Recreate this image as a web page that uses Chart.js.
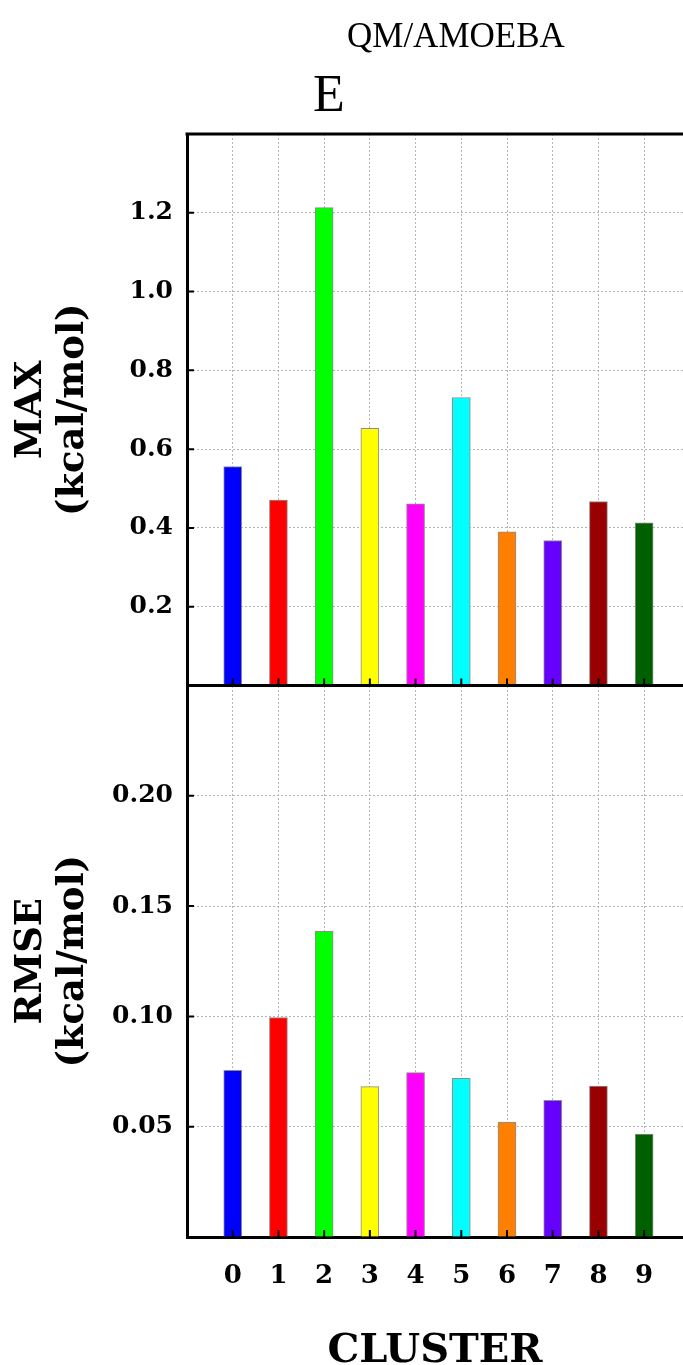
<!DOCTYPE html>
<html>
<head>
<meta charset="utf-8">
<script src="https://cdn.jsdelivr.net/npm/chart.js@4.4.1/dist/chart.umd.min.js"></script>
<style>
  html, body { margin: 0; padding: 0; background: #fff; overflow: hidden; }
  #wrap { position: relative; width: 683px; height: 1365px; }
</style>
</head>
<body>
<div id="wrap"><canvas id="clusterChart"></canvas></div>
<script>
const clusters = [0, 1, 2, 3, 4, 5, 6, 7, 8, 9];
const maxValues = [0.556, 0.471, 1.213, 0.653, 0.461, 0.731, 0.390, 0.368, 0.467, 0.413];
const rmseValues = [0.0755, 0.0995, 0.1386, 0.0682, 0.0745, 0.0719, 0.0521, 0.0620, 0.0684, 0.0467];
const barColors = ["#0000ff", "#ff0000", "#00ff00", "#ffff00", "#ff00ff",
                   "#00ffff", "#ff8000", "#6600ff", "#990000", "#006000"];
const maxRange = [0, 1.4];
const rmseRange = [0, 0.25];

const serif = "'DejaVu Serif', serif";

const gridStyle = { color: "#b4b4b4", lineWidth: 1, drawTicks: false, offset: false };
const borderStyle = { display: true, color: "#000", width: 3, dash: [2, 2] };

// tick labels only inside the panel, not on its edges
const innerLabel = (range, digits) => (v) =>
  v > range[0] + 1e-9 && v < range[1] - 1e-9 ? v.toFixed(digits) : "";

const yAxis = (range, step, digits, title) => ({
  type: "linear",
  position: "left",
  stack: "panels",
  stackWeight: 1,
  min: range[0],
  max: range[1],
  z: 1,
  grid: gridStyle,
  border: borderStyle,
  ticks: {
    stepSize: step,
    padding: 14,
    color: "#000",
    font: { family: serif, size: 25, weight: "bold" },
    callback: innerLabel(range, digits),
  },
  title: {
    display: true,
    text: title,
    color: "#000",
    font: { family: serif, size: 37, weight: "bold", lineHeight: 1.12 },
    padding: { top: 11, bottom: 0 },
  },
  afterFit: (s) => { s.width = 187; },
});

const frameAndTicks = {
  id: "frameAndTicks",
  afterDraw(chart) {
    const { ctx, chartArea, scales } = chart;
    ctx.save();
    ctx.strokeStyle = "#000";
    ctx.lineWidth = 2;
    ctx.beginPath();
    ["yMax", "yRmse"].forEach((id) => {
      const s = scales[id];
      s.ticks.forEach((t) => {
        if (t.value <= s.min + 1e-9 || t.value >= s.max - 1e-9) return;
        const y = s.getPixelForValue(t.value);
        ctx.moveTo(chartArea.left, y);
        ctx.lineTo(chartArea.left + 7, y);
      });
    });
    [scales.yMax.bottom, scales.yRmse.bottom].forEach((base) => {
      clusters.forEach((c) => {
        const px = scales.x.getPixelForValue(c);
        ctx.moveTo(px, base);
        ctx.lineTo(px, base - 7);
      });
    });
    ctx.stroke();

    ctx.lineWidth = 3;
    ctx.beginPath();
    ctx.moveTo(chartArea.left - 1.5, chartArea.top);
    ctx.lineTo(chartArea.right, chartArea.top);
    ctx.moveTo(chartArea.left, scales.yMax.bottom);
    ctx.lineTo(chartArea.right, scales.yMax.bottom);
    ctx.stroke();
    ctx.restore();
  },
};

const energyTitle = {
  id: "energyTitle",
  afterDraw(chart) {
    const { ctx } = chart;
    ctx.save();
    ctx.fillStyle = "#000";
    ctx.textBaseline = "alphabetic";
    ctx.font = "52px 'Liberation Serif', serif";
    ctx.fillText("E", 313, 111);
    ctx.font = "35px 'Liberation Serif', serif";
    ctx.fillText("QM/AMOEBA", 347, 47);
    ctx.restore();
  },
};

const barStyle = {
  backgroundColor: barColors,
  borderColor: "#8c8c8c",
  borderWidth: 1,
  barThickness: 18,
  grouped: false,
};

new Chart(document.getElementById("clusterChart"), {
  type: "bar",
  data: {
    datasets: [
      { label: "MAX", yAxisID: "yMax", data: clusters.map((c, i) => ({ x: c, y: maxValues[i] })), ...barStyle },
      { label: "RMSE", yAxisID: "yRmse", data: clusters.map((c, i) => ({ x: c, y: rmseValues[i] })), ...barStyle },
    ],
  },
  options: {
    animation: false,
    responsive: true,
    maintainAspectRatio: false,
    layout: { padding: { top: 134, left: 0, right: 0, bottom: 0 } },
    plugins: { legend: { display: false }, tooltip: { enabled: false } },
    scales: {
      x: {
        type: "linear",
        min: -1,
        max: 9.85,
        offset: false,
        z: 1,
        grid: gridStyle,
        border: borderStyle,
        afterBuildTicks: (s) => { s.ticks = clusters.map((v) => ({ value: v })); },
        ticks: {
          autoSkip: false,
          maxRotation: 0,
          padding: 24,
          color: "#000",
          font: { family: serif, size: 26, weight: "bold" },
          callback: (v) => String(v),
        },
        title: {
          display: true,
          text: "CLUSTER",
          color: "#000",
          font: { family: serif, size: 40, weight: "bold", lineHeight: 1 },
          padding: { top: 0, bottom: -7 },
        },
        afterFit: (s) => { s.height = 128; },
      },
      yRmse: yAxis(rmseRange, 0.05, 2, ["RMSE", "(kcal/mol)"]),
      yMax: yAxis(maxRange, 0.2, 1, ["MAX", "(kcal/mol)"]),
    },
  },
  plugins: [frameAndTicks, energyTitle],
});
</script>
</body>
</html>
